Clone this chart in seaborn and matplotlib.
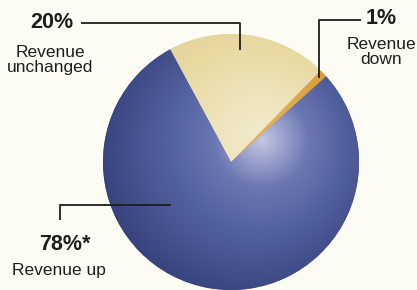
"""Revenue outlook pie chart, shaded like a sphere."""

import numpy as np
import matplotlib.pyplot as plt
from matplotlib.colors import LinearSegmentedColormap
import seaborn as sns

sns.set_theme(style="white")
plt.rcParams["font.family"] = ["Liberation Sans", "DejaVu Sans"]

# data
shares = [1, 20, 78]
pct_labels = ["1%", "20%", "78%*"]
desc_labels = ["Revenue\ndown", "Revenue\nunchanged", "Revenue up"]
base_colors = ["#d9a243", "#e8d89c", "#4a5894"]

W, H = 417, 290
CX, CY, R = 231, H - 162, 128  # pie centre/radius in pixel units (y up)

fig, ax = plt.subplots(figsize=(W / 100, H / 100), dpi=100)
fig.patch.set_facecolor("#fcfcf4")
ax.set_position([0, 0, 1, 1])

wedges, _ = ax.pie(shares, colors=base_colors, startangle=42, counterclock=True,
                   center=(CX, CY), radius=R, wedgeprops=dict(linewidth=0))
ax.set_xlim(0, W)
ax.set_ylim(0, H)
ax.set_aspect("equal")
ax.axis("off")

# sphere-like shading, clipped to each wedge
xs = np.linspace(CX - R, CX + R, 400)
ys = np.linspace(CY - R, CY + R, 400)
gx, gy = np.meshgrid(xs, ys)
hx, hy = 262, H - 140
d_hl = np.hypot(gx - hx, gy - hy) / 170
d_c = np.hypot(gx - CX, gy - CY) / R
shade = np.clip(0.9 * d_hl + 0.4 * np.clip(d_c - 0.6, 0, 1) ** 1.5, 0, 1)

cmaps = [
    LinearSegmentedColormap.from_list("o", ["#e8b45c", "#d99f40", "#cf9234"]),
    LinearSegmentedColormap.from_list("t", ["#f2ebcf", "#eadca6", "#e2cf90"]),
    LinearSegmentedColormap.from_list("b", ["#c4c6e2", "#6b77b2", "#52609e", "#44508c", "#36427c"]),
]
for w, cm in zip(wedges, cmaps):
    im = ax.imshow(shade, cmap=cm, vmin=0, vmax=1, origin="lower", zorder=2,
                   extent=(CX - R, CX + R, CY - R, CY + R), interpolation="bilinear")
    im.set_clip_path(w)

# leader lines
lc = dict(color="#1e1e1e", lw=1.3, solid_capstyle="butt", zorder=3)
t1 = np.deg2rad(42 + 360 * shares[0] / sum(shares) / 2)
ex, ey = CX + 0.95 * R * np.cos(t1), CY + 0.95 * R * np.sin(t1)
ax.plot([361, ex, ex], [H - 20, H - 20, ey], **lc)
ax.plot([81, 240, 240], [H - 23, H - 23, H - 50], **lc)
ax.plot([60, 60, 171], [H - 220, H - 205, H - 205], **lc)

# labels
bold = dict(fontsize=15.5, fontweight="bold", ha="center", va="center", color="#1e1e1e")
reg = dict(fontsize=12.5, ha="center", va="center", color="#1e1e1e", linespacing=1.0)

ax.text(381, H - 19, pct_labels[0], **bold)
ax.text(381, H - 52, desc_labels[0], **reg)
ax.text(52, H - 23, pct_labels[1], **bold)
ax.text(50, H - 60, desc_labels[1], **reg)
ax.text(65, H - 245, pct_labels[2], **bold)
ax.text(59, H - 270, desc_labels[2], **reg)

plt.savefig("out.png", dpi=100, facecolor=fig.get_facecolor())
